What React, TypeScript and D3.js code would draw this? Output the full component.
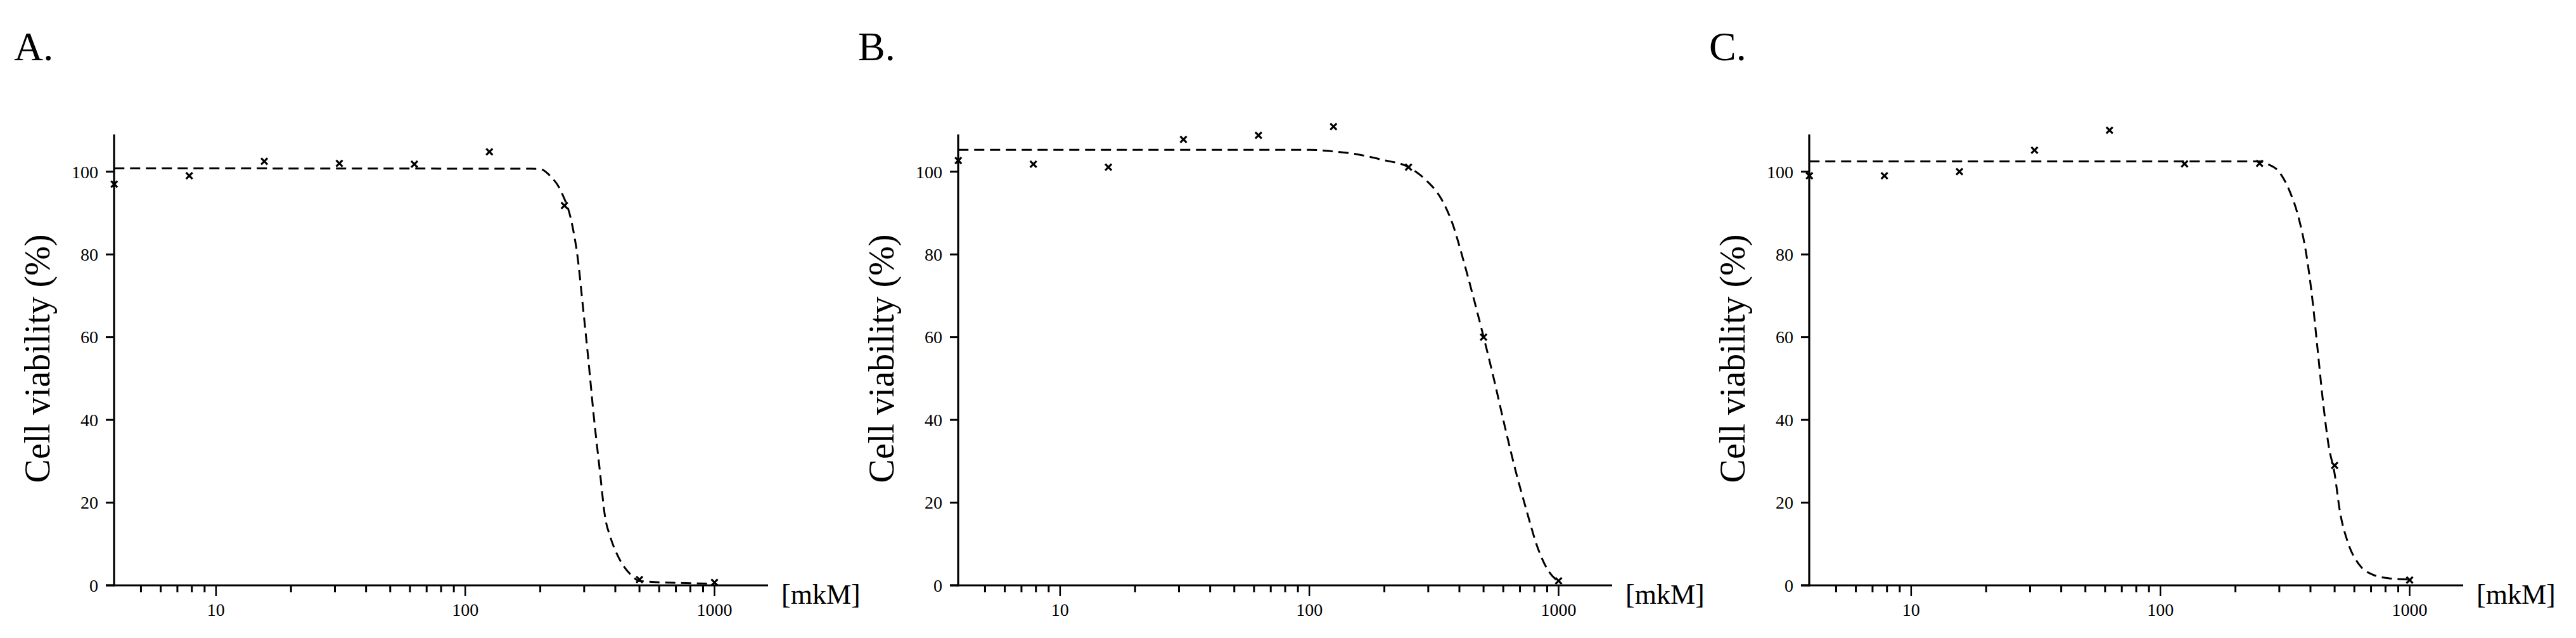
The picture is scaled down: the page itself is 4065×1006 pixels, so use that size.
import React from 'react'
import * as d3 from 'd3'

// concentrations (two-fold dilution series, mkM)
const concentrations = [3.906, 7.8125, 15.625, 31.25, 62.5, 125, 250, 500, 1000]

// measured viability, %
const viabilityA = [97, 99, 102.5, 102, 101.8, 104.8, 91.8, 1.4, 0.7]
const viabilityB = [102.7, 101.8, 101.1, 107.8, 108.8, 110.9, 101.1, 60, 1.1]
const viabilityC = [99, 99, 100, 105.2, 110, 101.9, 102, 29, 1.3]

// fitted curves
const fitAx = [3.906, 198, 219, 243, 268, 282, 297, 312, 328, 346, 364, 382, 412, 456, 505, 1000]
const fitAy = [100.8, 100.7, 99.0, 95.1, 87.4, 79.6, 67, 54.4, 40.8, 28.2, 16.5, 11.7, 6.8, 2.9, 1.0, 0.4]
const fitBx = [3.906, 100, 125, 159, 195, 250, 292, 340, 376, 415, 459, 500, 548, 607, 671, 743, 821, 908, 1000]
const fitBy = [105.3, 105.3, 104.9, 104.1, 102.9, 101.1, 98.1, 93.2, 87.3, 78.6, 68.8, 60.1, 50.3, 38.7, 27.9, 18.2, 9.4, 3.6, 0.9]
const fitCx = [3.906, 250, 270, 299, 331, 357, 386, 406, 427, 449, 473, 500, 524, 565, 626, 711, 828, 1000]
const fitCy = [102.5, 102.5, 101.8, 100, 95.1, 89.3, 79.6, 69.8, 57.2, 44.5, 33.8, 27, 18.2, 10.4, 5.1, 2.6, 1.7, 1.4]

const panelLabels = ['A.', 'B.', 'C.']
const yTicks = [0, 20, 40, 60, 80, 100]
const xMajor = [10, 100, 1000]
const yTitle = 'Cell viability (%)'
const xUnit = '[mkM]'

const panels = [
  { label: panelLabels[0], values: viabilityA, fx: fitAx, fy: fitAy, dx: 0 },
  { label: panelLabels[1], values: viabilityB, fx: fitBx, fy: fitBy, dx: 1332 },
  { label: panelLabels[2], values: viabilityC, fx: fitCx, fy: fitCy, dx: 2675 },
]

const font = '"Liberation Serif", "Times New Roman", serif'

const x = d3.scaleLog().domain([3.9, 1640]).range([180, 1212])
const y = d3.scaleLinear().domain([0, 109]).range([923, 212])

const minorTicks = x.ticks().filter(t => !xMajor.includes(t) && t > 4.5)

const Panel = ({ p }) => {
  const line = d3.line()
    .x(d => x(d[0]))
    .y(d => y(d[1]))
    .curve(d3.curveMonotoneX)
  const fit = p.fx.map((v, i) => [v, p.fy[i]])

  return (
    <g transform={`translate(${p.dx},0)`}>
      <text x={22} y={95} fontSize={64} fontFamily={font}>{p.label}</text>

      <text
        transform={`translate(78,${(y.range()[0] + y.range()[1]) / 2 - 2}) rotate(-90)`}
        textAnchor="middle"
        fontSize={56}
        fontFamily={font}
      >{yTitle}</text>

      {/* y axis */}
      <line x1={x.range()[0]} x2={x.range()[0]} y1={y(0) + 1.5} y2={y.range()[1]} stroke="#000" strokeWidth={3.2} />
      {yTicks.map(t => (
        <g key={t}>
          <line x1={x.range()[0] - 13} x2={x.range()[0]} y1={y(t)} y2={y(t)} stroke="#000" strokeWidth={3} />
          <text x={x.range()[0] - 25} y={y(t)} dy="0.35em" textAnchor="end" fontSize={28} fontFamily={font}>{t}</text>
        </g>
      ))}

      {/* x axis */}
      <line x1={x.range()[0] - 13} x2={x.range()[1]} y1={y(0)} y2={y(0)} stroke="#000" strokeWidth={3.2} />
      {minorTicks.map(t => (
        <line key={t} x1={x(t)} x2={x(t)} y1={y(0)} y2={y(0) + 11} stroke="#000" strokeWidth={3} />
      ))}
      {xMajor.map(t => (
        <g key={t}>
          <line x1={x(t)} x2={x(t)} y1={y(0)} y2={y(0) + 17} stroke="#000" strokeWidth={2.5} />
          <text x={x(t)} y={y(0) + 48} textAnchor="middle" fontSize={28} fontFamily={font}>{t}</text>
        </g>
      ))}
      <text x={x.range()[1] + 21} y={y(0) + 29} fontSize={44} fontFamily={font}>{xUnit}</text>

      {/* fitted curve */}
      <path d={line(fit)} fill="none" stroke="#000" strokeWidth={3} strokeDasharray="16 9" />

      {/* data points */}
      {concentrations.map((c, i) => {
        const cx = x(c)
        const cy = y(p.values[i])
        const s = 5
        return (
          <path
            key={c}
            d={`M${cx - s},${cy - s}L${cx + s},${cy + s}M${cx - s},${cy + s}L${cx + s},${cy - s}`}
            stroke="#000"
            strokeWidth={3.2}
          />
        )
      })}
    </g>
  )
}

export default function App() {
  return (
    <svg width={4065} height={1006} style={{ position: 'absolute', left: 0, top: 0, background: '#fff' }}>
      <rect width={4065} height={1006} fill="#fff" />
      {panels.map(p => <Panel key={p.label} p={p} />)}
    </svg>
  )
}
